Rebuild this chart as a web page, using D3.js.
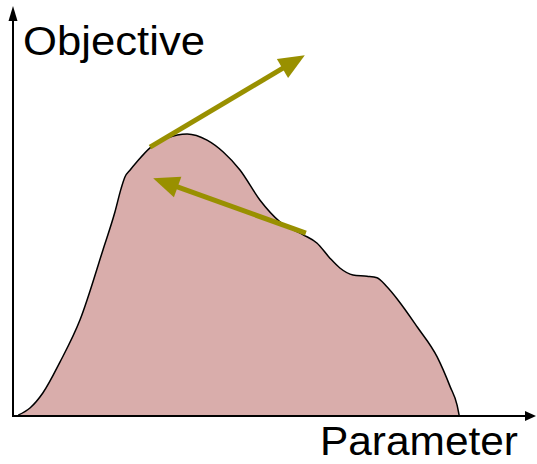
<!DOCTYPE html>
<html>
<head>
<meta charset="utf-8">
<script src="https://cdn.jsdelivr.net/npm/d3@7"></script>
<style>
  body { margin: 0; background: #fff; }
  text { font-family: "Liberation Sans", Arial, sans-serif; }
</style>
</head>
<body>
<svg></svg>
<script>
var width = 537;
var height = 464;

// curve: parameter vs objective (both 0..100 along the axes)
var param = [1.0, 3.3, 5.7, 9.0, 12.8, 17.2, 19.5, 20.65, 21.4, 22.4, 23.7, 26.2, 29.5, 33.3, 37.1, 40.2, 43.4,
             47.2, 51.1, 55.5, 58.1, 60.6, 62.5, 65.0, 67.7, 69.6, 71.5, 73.6, 77.3, 81.1, 83.6, 84.9, 85.3];
var objective = [0.2, 2.0, 5.6, 13.2, 23.4, 40.5, 49.8, 55.4, 58.3, 60.0, 62.0, 65.4, 67.8, 68.8, 67.3, 64.4, 60.0,
                 52.7, 47.3, 44.2, 42.2, 38.5, 36.1, 34.4, 34.1, 33.7, 31.5, 28.3, 21.7, 14.4, 7.1, 2.7, 0.2];

// gradient arrows: [start, tip]
var arrowFrom = [[26.2, 65.6], [56.0, 44.6]];
var arrowTo = [[55.8, 88.0], [26.8, 58.0]];

var xLabel = "Parameter";
var yLabel = "Objective";

var data = param.map((p, i) => ({p: p, o: objective[i]}));

var xScale = d3.scaleLinear().domain([0, 100]).range([13, 536]);
var yScale = d3.scaleLinear().domain([0, 100]).range([416, 6]);

var svg = d3.select("svg")
    .attr("width", width)
    .attr("height", height);

// filled curve
var area = d3.area()
    .x(d => xScale(d.p))
    .y0(yScale(0))
    .y1(d => yScale(d.o))
    .curve(d3.curveMonotoneX);

var line = d3.line()
    .x(d => xScale(d.p))
    .y(d => yScale(d.o))
    .curve(d3.curveMonotoneX);

svg.append("path")
    .datum(data)
    .attr("d", area)
    .attr("fill", "#d9adab");

svg.append("path")
    .datum(data)
    .attr("d", line)
    .attr("fill", "none")
    .attr("stroke", "#000")
    .attr("stroke-width", 1.5);

// arrow helper: shaft + triangular head
function arrow(x1, y1, x2, y2, headLen, headW, lw, color) {
    var dx = x2 - x1, dy = y2 - y1;
    var len = Math.sqrt(dx * dx + dy * dy);
    var ux = dx / len, uy = dy / len;
    var bx = x2 - ux * headLen, by = y2 - uy * headLen;
    svg.append("line")
        .attr("x1", x1).attr("y1", y1)
        .attr("x2", bx + ux * 1).attr("y2", by + uy * 1)
        .attr("stroke", color)
        .attr("stroke-width", lw);
    var pts = [[x2, y2],
               [bx - uy * headW / 2, by + ux * headW / 2],
               [bx + uy * headW / 2, by - ux * headW / 2]];
    svg.append("path")
        .attr("d", "M" + pts.join("L") + "Z")
        .attr("fill", color);
}

// axes
arrow(xScale(0), yScale(0) + 1, xScale(0), yScale(100), 15, 9, 2, "#000");
arrow(xScale(0) - 1, yScale(0), xScale(100), yScale(0), 11, 10, 2, "#000");

// gradient arrows
for (var i = 0; i < arrowFrom.length; i++) {
    arrow(xScale(arrowFrom[i][0]), yScale(arrowFrom[i][1]),
          xScale(arrowTo[i][0]), yScale(arrowTo[i][1]), 26, 22, 5, "#999000");
}

// labels
svg.append("text")
    .attr("x", 23)
    .attr("y", 55)
    .attr("textLength", 182)
    .attr("lengthAdjust", "spacingAndGlyphs")
    .style("font-size", "41px")
    .text(yLabel);

svg.append("text")
    .attr("x", 320)
    .attr("y", 455)
    .attr("textLength", 198)
    .attr("lengthAdjust", "spacingAndGlyphs")
    .style("font-size", "40px")
    .text(xLabel);
</script>
</body>
</html>
